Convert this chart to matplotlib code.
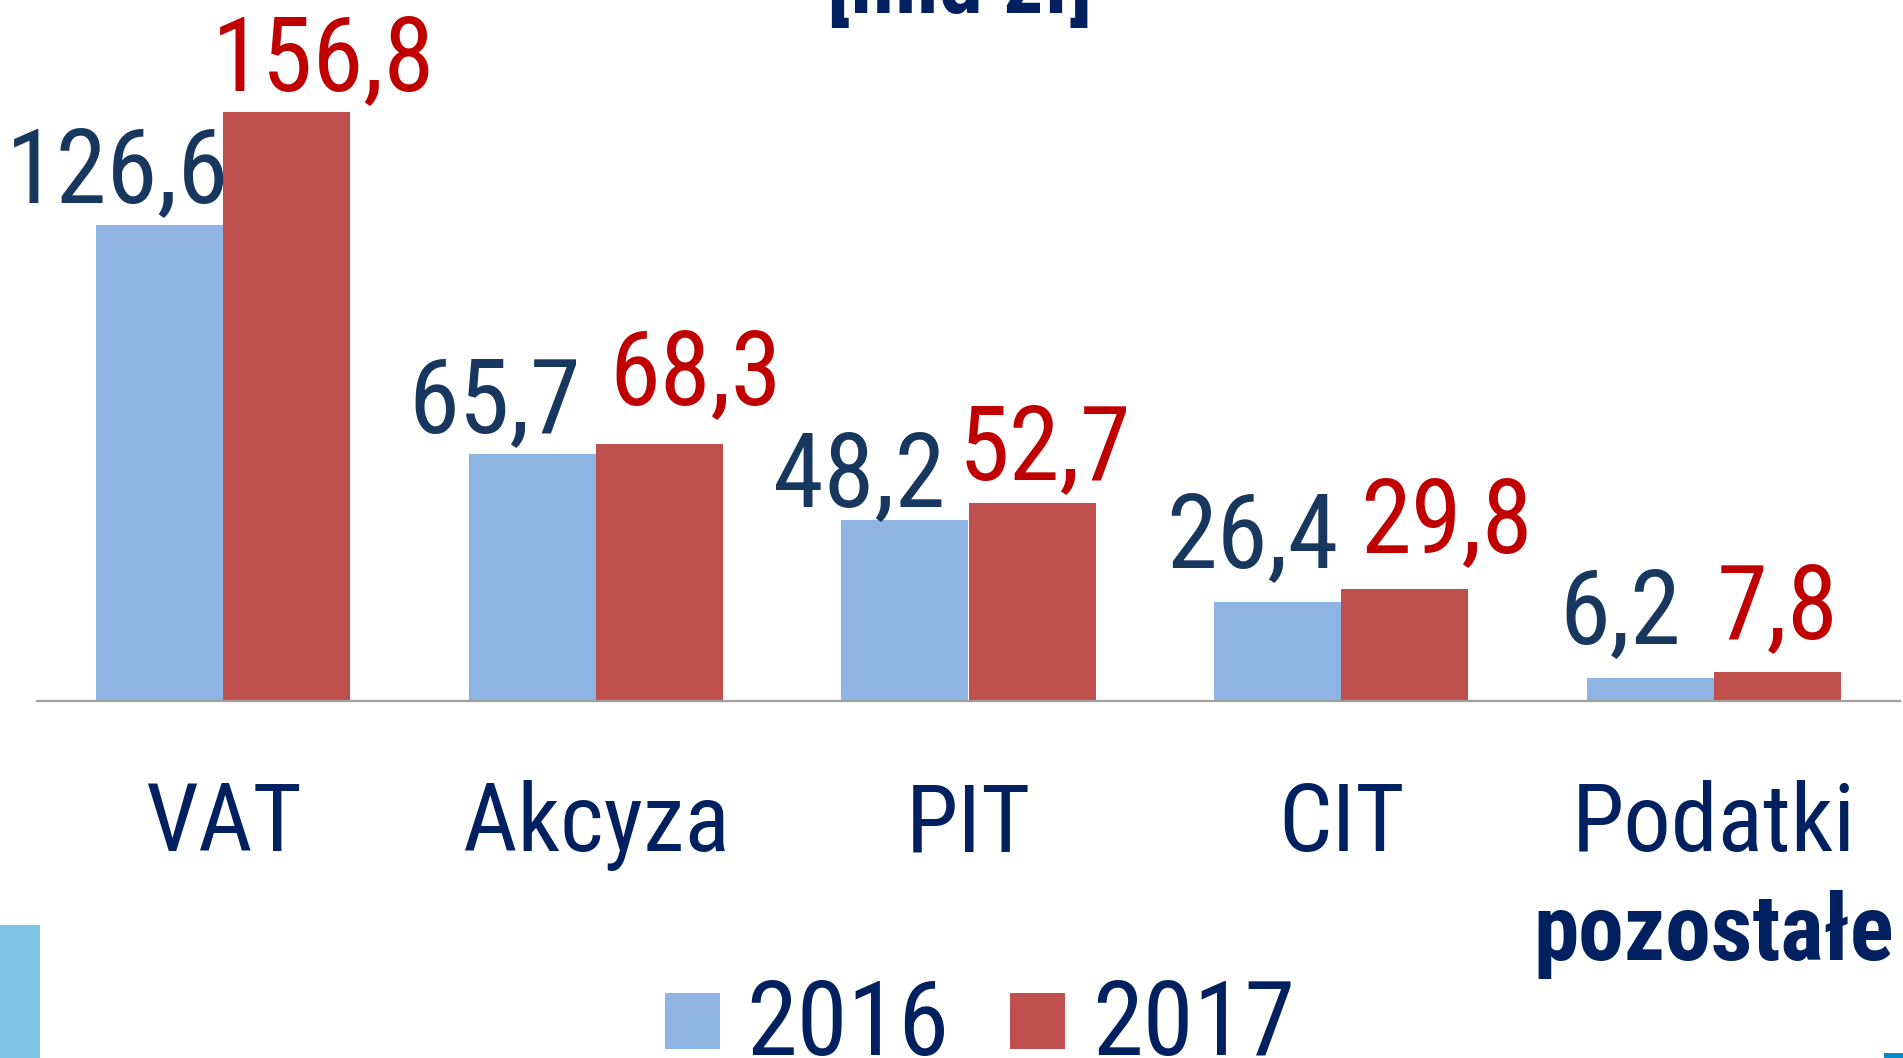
import matplotlib
matplotlib.use("Agg")
import matplotlib.pyplot as plt
import matplotlib.transforms as mtransforms
from matplotlib.patches import Rectangle
import numpy as np

# ---- data ----
categories = ["VAT", "Akcyza", "PIT", "CIT", "Podatki\npozostałe"]
series_names = ["2016", "2017"]
values_2016 = [126.6, 65.7, 48.2, 26.4, 6.2]
values_2017 = [156.8, 68.3, 52.7, 29.8, 7.8]
title_text = "[mld zł]"

# ---- style ----
FONT = ["Roboto Condensed", "DejaVu Sans"]
C16 = "#8EB4E3"
C17 = "#C0504D"
L16 = "#17375E"
L17 = "#C00000"
NAVY = "#002060"

# label nudges (pixels): horizontal offset from bar centre, gap above bar top
dx16 = [-42, -38, -46, -25, -30]
dy16 = [23, 22, 14, 35, 35]
dx17 = [37, 36, 13, 42, 0]
dy17 = [22, 40, 24, 37, 34]

W, H = 1903, 1058
fig = plt.figure(figsize=(W / 100, H / 100), dpi=100)
fig.patch.set_facecolor("white")

ax_left, ax_right, ax_base = 37, 1900, 701
ax = fig.add_axes([ax_left / W, (H - ax_base) / H, (ax_right - ax_left) / W, ax_base / H])
ax.set_xlim(-0.5, 4.5)
ax.set_ylim(0, ax_base / 3.756)
ax.patch.set_alpha(0)

x = np.arange(len(categories))
bw = 0.341
b16 = ax.bar(x - bw / 2, values_2016, bw, color=C16, zorder=2)
b17 = ax.bar(x + bw / 2, values_2017, bw, color=C17, zorder=2)

for s in ["top", "right", "left"]:
    ax.spines[s].set_visible(False)
ax.spines["bottom"].set_color("#A0A0A0")
ax.spines["bottom"].set_linewidth(1.6)
ax.spines["bottom"].set_zorder(3)
ax.set_xticks([])
ax.set_yticks([])

def fmt(v):
    return f"{v:.1f}".replace(".", ",")

LBL = 74
for i, (v, r) in enumerate(zip(values_2016, b16)):
    ax.annotate(fmt(v), (r.get_x() + r.get_width() / 2, v), xytext=(dx16[i], dy16[i]),
                textcoords="offset pixels", ha="center", va="baseline",
                fontsize=LBL, color=L16, family=FONT)
for i, (v, r) in enumerate(zip(values_2017, b17)):
    ax.annotate(fmt(v), (r.get_x() + r.get_width() / 2, v), xytext=(dx17[i], dy17[i]),
                textcoords="offset pixels", ha="center", va="baseline",
                fontsize=LBL, color=L17, family=FONT)

# category labels
trans = mtransforms.blended_transform_factory(ax.transData, fig.transFigure)
for i, cat in enumerate(categories):
    lines = cat.split("\n")
    ax.text(i, (H - 851) / H, lines[0], transform=trans, ha="center", va="baseline",
            fontsize=68, color=NAVY, family=FONT)
    if len(lines) > 1:
        ax.text(i, (H - 960) / H, lines[1], transform=trans, ha="center", va="baseline",
                fontsize=66, color=NAVY, family=FONT, fontweight="bold")

# title (cut at top)
fig.text(960 / W, (H - 13) / H, title_text, ha="center", va="baseline",
         fontsize=64, color=NAVY, family=FONT, fontweight="bold")

# legend (manual)
leg = [(665, 746, C16, series_names[0]), (1010, 1092, C17, series_names[1])]
for rx, tx, col, lab in leg:
    fig.patches.append(Rectangle((rx / W, (H - 1049) / H), 55 / W, 56 / H,
                                 transform=fig.transFigure, color=col, lw=0))
    fig.text(tx / W, (H - 1055) / H, lab, ha="left", va="baseline",
             fontsize=LBL, color=NAVY, family=FONT)

# decorative slide elements
fig.patches.append(Rectangle((0, 0), 40 / W, (H - 925) / H, transform=fig.transFigure,
                             color="#7FC4E2", lw=0))
fig.patches.append(Rectangle((1884 / W, 0), 19 / W, 5 / H, transform=fig.transFigure,
                             color="#0A8BC9", lw=0))

fig.savefig("out.png", dpi=100)
